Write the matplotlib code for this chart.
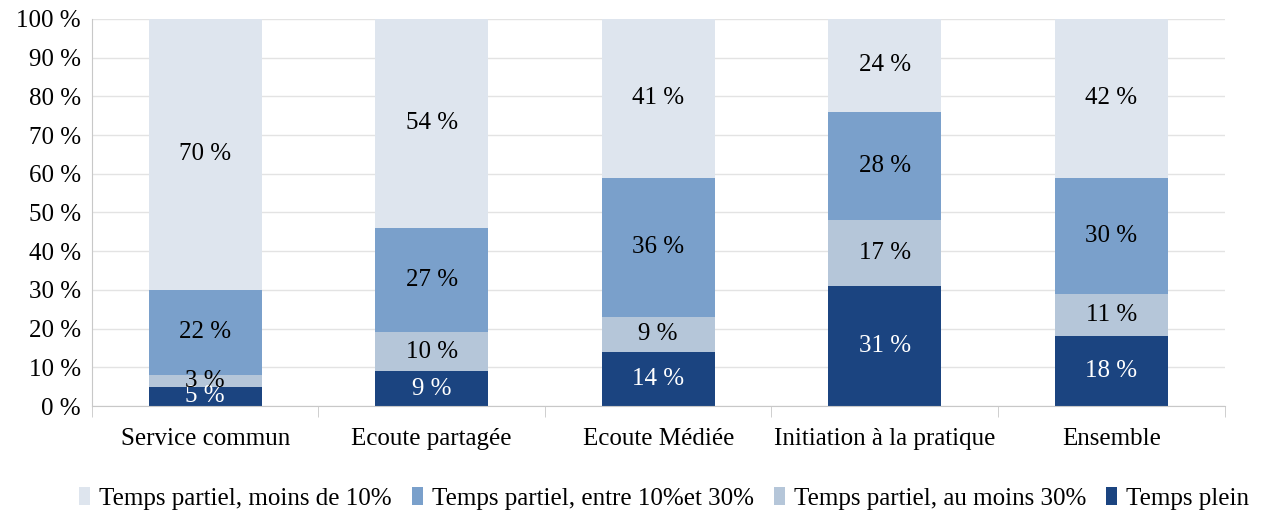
import numpy as np
import matplotlib
matplotlib.use("Agg")
import matplotlib.pyplot as plt

plt.rcParams['font.family'] = ['Liberation Serif', 'DejaVu Serif']

categories = ["Service commun", "Ecoute partagée", "Ecoute Médiée",
              "Initiation à la pratique", "Ensemble"]
temps_plein = [5, 9, 14, 31, 18]
partiel_30 = [3, 10, 9, 17, 11]
partiel_10_30 = [22, 27, 36, 28, 30]
partiel_10 = [70, 54, 41, 24, 42]
yticks = [0, 10, 20, 30, 40, 50, 60, 70, 80, 90, 100]

series = [
    ("Temps plein", temps_plein, "#1B4480", "white"),
    ("Temps partiel, au moins 30%", partiel_30, "#B5C6D9", "black"),
    ("Temps partiel, entre 10%et 30%", partiel_10_30, "#7AA0CB", "black"),
    ("Temps partiel, moins de 10%", partiel_10, "#DEE5EE", "black"),
]
FS = 18

fig = plt.figure(figsize=(12.65, 5.12), dpi=100)
ax = fig.add_axes([0.0727, 0.207, 0.8953, 0.756])

x = np.arange(len(categories))
bottom = np.zeros(len(categories))
handles = {}
for name, vals, color, tcolor in series:
    vals = np.array(vals, dtype=float)
    # clip so the stack never goes above 100
    h = np.minimum(vals, 100 - bottom)
    bars = ax.bar(x, h, 0.5, bottom=bottom, color=color, label=name, zorder=2)
    handles[name] = bars
    for xi, b, v, hv in zip(x, bottom, vals, h):
        ax.text(xi, b + hv / 2, f"{int(v)} %", ha="center", va="center",
                color=tcolor, fontsize=FS, zorder=3)
    bottom = bottom + h

ax.set_xlim(-0.5, len(categories) - 0.5)
ax.set_ylim(0, 100)
ax.set_yticks(yticks)
ax.set_yticklabels([f"{t} %" for t in yticks], fontsize=FS)
ax.set_xticks(x)
ax.set_xticklabels(categories, fontsize=FS)
ax.set_xticks(np.arange(-0.5, len(categories)), minor=True)
ax.tick_params(axis="x", which="major", length=0, pad=16)
ax.tick_params(axis="x", which="minor", length=8, color="#C8C8C8")
ax.tick_params(axis="y", length=0, pad=8)
ax.yaxis.grid(True, color="#E3E3E3", linewidth=1, zorder=0)
ax.set_axisbelow(True)
for s in ["top", "right"]:
    ax.spines[s].set_visible(False)
ax.spines["left"].set_color("#C8C8C8")
ax.spines["bottom"].set_color("#C8C8C8")

order = ["Temps partiel, moins de 10%", "Temps partiel, entre 10%et 30%",
         "Temps partiel, au moins 30%", "Temps plein"]
fig.legend([handles[n] for n in order], order, loc="lower center",
           bbox_to_anchor=(0.525, 0.0), ncol=4, frameon=False, fontsize=FS,
           handlelength=0.45, handleheight=0.75, handletextpad=0.35,
           columnspacing=0.8, borderpad=0.0, borderaxespad=0.1)

fig.savefig("out.png", dpi=100)
